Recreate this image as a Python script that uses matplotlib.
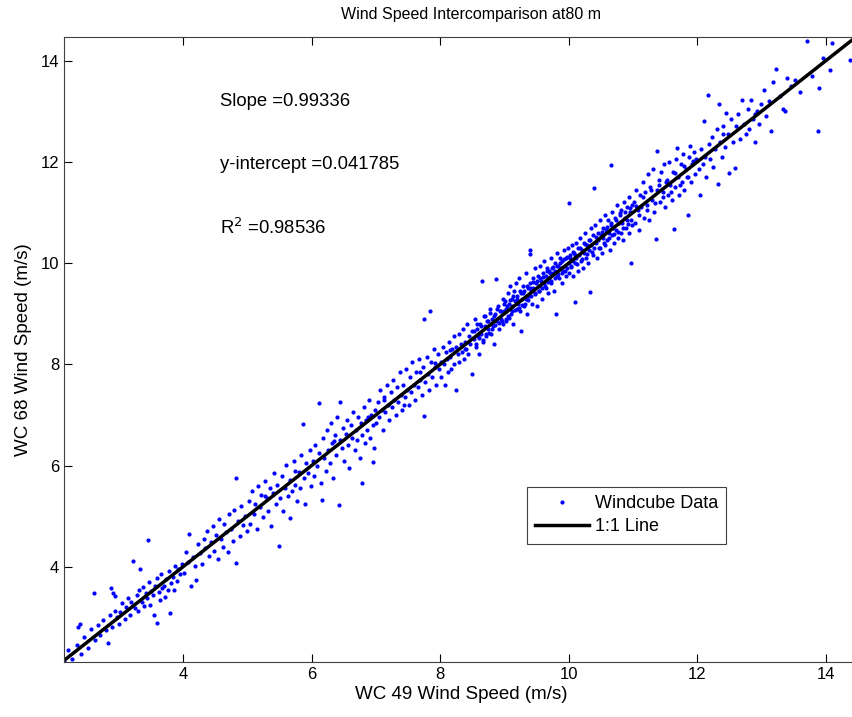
import matplotlib
matplotlib.use('Agg')
import numpy as np
import matplotlib.pyplot as plt

plt.rcParams['font.family'] = ['Liberation Sans', 'DejaVu Sans']

# WC 49 (x) y WC 68 (y), leidos por tramos de velocidad
wc49_low = [2.15, 2.22, 2.28, 2.35, 2.37, 2.40, 2.41, 2.46, 2.52, 2.57, 2.62, 2.63, 2.68, 2.71,
            2.76, 2.80, 2.83, 2.86, 2.88, 2.90, 2.92, 2.94, 2.95, 2.97, 3.00,
            3.02, 3.06, 3.10, 3.12, 3.15, 3.18, 3.20, 3.23, 3.25, 3.28, 3.30, 3.32, 3.34, 3.36,
            3.38, 3.40, 3.42, 3.44, 3.45, 3.47, 3.49, 3.51, 3.53, 3.55, 3.57, 3.59, 3.60, 3.62,
            3.64, 3.66, 3.68, 3.70, 3.72, 3.74, 3.76, 3.78, 3.80, 3.82, 3.84, 3.86, 3.88, 3.90,
            3.93, 3.96, 3.98]
wc68_low = [2.13, 2.35, 2.18, 2.45, 2.81, 2.87, 2.28, 2.62, 2.40, 2.78, 3.49, 2.55, 2.86, 2.66,
            2.95, 2.75, 2.50, 3.05, 3.58, 2.82, 3.48, 3.12, 3.42, 3.00, 2.88,
            3.10, 3.28, 2.96, 3.20, 3.38, 3.05, 3.30, 4.11, 3.18, 3.45, 3.12, 3.55, 3.96, 3.30,
            3.60, 3.22, 3.48, 3.38, 4.53, 3.70, 3.25, 3.52, 3.44, 3.05, 3.62, 2.89, 3.78, 3.50,
            3.35, 3.85, 3.58, 3.62, 3.40, 3.75, 3.55, 3.92, 3.09, 3.68, 3.80, 3.55, 4.02, 3.72,
            3.95, 3.85, 4.05]

wc49_4_6 = [4.02, 4.05, 4.08, 4.10, 4.12, 4.15, 4.18, 4.21, 4.23, 4.26, 4.29, 4.32, 4.35, 4.37,
            4.40, 4.43, 4.46, 4.48, 4.51, 4.54, 4.56, 4.59, 4.62, 4.64, 4.67, 4.70, 4.72, 4.75,
            4.78, 4.80, 4.83, 4.83, 4.86, 4.88, 4.91, 4.94, 4.97, 4.99,
            5.02, 5.04, 5.07, 5.10, 5.12, 5.15, 5.17, 5.20, 5.22, 5.25, 5.27, 5.30, 5.32, 5.35,
            5.37, 5.40, 5.42, 5.45, 5.47, 5.49, 5.51, 5.54, 5.56, 5.59, 5.61, 5.63, 5.66, 5.67,
            5.70, 5.72, 5.75, 5.77, 5.80, 5.82, 5.84, 5.86, 5.88, 5.90, 5.92, 5.95, 5.97, 5.99]
wc68_4_6 = [3.88, 4.30, 4.10, 4.65, 3.62, 4.20, 4.02, 3.74, 4.45, 4.28, 4.06, 4.55, 4.38, 4.70,
            4.22, 4.50, 4.80, 4.32, 4.62, 4.15, 4.95, 4.55, 4.40, 4.85, 4.68, 4.30, 5.05, 4.75,
            4.52, 5.12, 5.75, 4.07, 4.90, 4.60, 5.20, 4.82, 5.00, 4.70,
            5.30, 4.85, 5.50, 5.05, 5.25, 4.75, 5.60, 5.18, 5.42, 4.98, 5.70, 5.35, 5.10, 5.55,
            4.80, 5.45, 5.85, 5.25, 5.62, 4.41, 5.35, 5.80, 5.10, 5.55, 6.02, 5.40, 5.72, 4.96,
            5.50, 6.10, 5.62, 5.30, 5.88, 5.55, 6.20, 6.82, 5.75, 5.25, 6.05, 5.85, 6.30, 5.60]

wc49_6_8 = [6.02, 6.04, 6.06, 6.08, 6.11, 6.12, 6.14, 6.16, 6.18, 6.20, 6.22, 6.24, 6.26, 6.28,
            6.30, 6.32, 6.34, 6.36, 6.38, 6.40, 6.42, 6.44, 6.45, 6.47, 6.49, 6.51, 6.53, 6.55,
            6.57, 6.59, 6.61, 6.63, 6.65, 6.67, 6.69, 6.71, 6.73, 6.75, 6.77, 6.78, 6.79, 6.81,
            6.83, 6.85, 6.87, 6.89, 6.91, 6.93, 6.95, 6.95, 6.97, 6.99,
            7.01, 7.03, 7.05, 7.07, 7.09, 7.11, 7.13, 7.15, 7.17, 7.19, 7.21, 7.23, 7.25, 7.27,
            7.29, 7.31, 7.33, 7.35, 7.37, 7.39, 7.41, 7.43, 7.45, 7.47, 7.49, 7.51, 7.53, 7.55,
            7.57, 7.59, 7.61, 7.63, 7.65, 7.67, 7.69, 7.71, 7.73, 7.75, 7.75, 7.77, 7.79, 7.81,
            7.83, 7.84, 7.86, 7.88, 7.90, 7.92, 7.94, 7.96, 7.98]
wc68_6_8 = [6.10, 5.80, 6.40, 6.00, 7.24, 6.25, 5.65, 5.32, 6.55, 6.15, 5.90, 6.70, 6.30, 6.05,
            6.85, 6.45, 5.75, 6.60, 6.20, 6.95, 5.22, 6.50, 7.26, 6.35, 6.75, 6.10, 6.62, 6.90,
            6.40, 5.95, 6.80, 6.55, 7.05, 6.30, 6.70, 6.50, 6.95, 6.15, 6.85, 5.66, 6.60, 7.15,
            6.45, 6.90, 6.70, 7.30, 6.55, 7.00, 6.80, 6.08, 6.35, 7.10,
            6.85, 7.25, 6.95, 7.50, 7.10, 6.70, 7.35, 7.05, 7.60, 7.20, 6.90, 7.45, 7.15, 7.70,
            7.30, 7.00, 7.55, 7.25, 7.85, 7.40, 7.10, 7.60, 7.35, 7.90, 7.50, 7.20, 7.75, 7.45,
            8.05, 7.60, 7.30, 7.85, 7.55, 8.10, 7.70, 7.40, 7.95, 8.90, 6.98, 7.65, 8.15, 7.80,
            7.50, 9.05, 8.05, 7.75, 8.30, 7.95, 7.60, 8.20, 7.90]

wc49_8_10 = [8.01, 8.02, 8.04, 8.06, 8.07, 8.09, 8.11, 8.12, 8.14, 8.16, 8.17, 8.19, 8.21, 8.22,
             8.24, 8.25, 8.27, 8.29, 8.30, 8.32, 8.34, 8.35, 8.37, 8.39, 8.40, 8.42, 8.44, 8.45,
             8.47, 8.49, 8.50, 8.52, 8.54, 8.55, 8.57, 8.59, 8.60, 8.62, 8.64, 8.65, 8.67, 8.69,
             8.70, 8.72, 8.74, 8.75, 8.77, 8.79, 8.80, 8.82, 8.84, 8.85, 8.87, 8.88, 8.90, 8.92,
             8.93, 8.95, 8.97, 8.98, 9.00,
             9.01, 9.02, 9.03, 9.05, 9.06, 9.07, 9.08, 9.10, 9.11, 9.12, 9.14, 9.15, 9.16, 9.18,
             9.19, 9.20, 9.21, 9.23, 9.24, 9.25, 9.26, 9.27, 9.29, 9.30, 9.31, 9.33, 9.34, 9.35,
             9.36, 9.38, 9.39, 9.39, 9.40, 9.41, 9.43, 9.44, 9.45, 9.47, 9.48, 9.49, 9.50, 9.52,
             9.53, 9.54, 9.56, 9.57, 9.58, 9.60, 9.61, 9.62, 9.64, 9.65, 9.66, 9.68, 9.69, 9.70,
             9.72, 9.73, 9.74, 9.75, 9.77, 9.78, 9.79, 9.80, 9.81, 9.82, 9.84, 9.85, 9.86, 9.88,
             9.89, 9.90, 9.91, 9.93, 9.94, 9.95, 9.96, 9.98, 9.99, 10.00, 10.00]
wc68_8_10 = [8.05, 7.75, 8.35, 8.00, 7.60, 8.25, 8.10, 7.85, 8.45, 8.15, 7.90, 8.30, 8.55, 8.00,
             7.49, 8.35, 8.20, 8.60, 8.05, 8.40, 8.25, 8.70, 8.10, 8.45, 8.30, 8.80, 8.20, 8.55,
             8.40, 7.81, 8.65, 8.50, 8.90, 8.35, 8.70, 8.55, 8.20, 8.80, 8.60, 9.65, 8.45, 8.75,
             8.95, 8.55, 8.85, 8.70, 9.10, 8.60, 8.90, 8.75, 8.40, 9.00, 9.69, 8.85, 9.15, 8.70,
             9.05, 8.90, 9.30, 8.80, 9.05,
             9.25, 8.85, 9.10, 9.40, 8.95, 9.20, 9.55, 9.00, 9.30, 9.15, 8.80, 9.45, 9.25, 9.60,
             9.10, 9.35, 9.20, 9.70, 9.05, 8.65, 9.40, 9.30, 9.55, 9.15, 9.45, 9.80, 9.30, 9.00,
             9.50, 9.35, 10.26, 10.18, 9.60, 9.45, 9.20, 9.70, 9.50, 9.90, 9.40, 9.60, 9.15, 9.75,
             9.55, 9.45, 9.95, 9.65, 9.30, 9.80, 9.60, 10.05, 9.50, 9.75, 9.90, 9.40, 9.85, 9.70,
             10.10, 9.60, 9.90, 9.80, 9.45, 10.00, 9.85, 8.99, 10.20, 9.75, 9.95, 9.70, 10.10, 9.90,
             9.60, 10.05, 9.85, 10.25, 9.95, 9.75, 10.10, 9.90, 10.30, 11.18, 10.00]

wc49_10_12 = [10.01, 10.02, 10.03, 10.05, 10.06, 10.07, 10.08, 10.10, 10.10, 10.11, 10.12, 10.14,
              10.15, 10.16, 10.18, 10.19, 10.20, 10.22, 10.23, 10.24, 10.26, 10.27, 10.28, 10.30,
              10.31, 10.32, 10.33, 10.34, 10.35, 10.37, 10.38, 10.39, 10.40, 10.41, 10.42, 10.44,
              10.45, 10.46, 10.48, 10.49, 10.50, 10.52, 10.53, 10.54, 10.56, 10.57, 10.58, 10.60,
              10.61, 10.62, 10.64, 10.65, 10.65, 10.67, 10.68, 10.69, 10.71, 10.72, 10.74, 10.75,
              10.76, 10.78, 10.79, 10.81, 10.82, 10.83, 10.85, 10.86, 10.87, 10.89, 10.90, 10.91,
              10.93, 10.94, 10.95, 10.97, 10.97, 10.98, 10.99,
              11.01, 11.03, 11.05, 11.07, 11.09, 11.11, 11.13, 11.15, 11.17, 11.19, 11.21, 11.23,
              11.25, 11.27, 11.29, 11.31, 11.33, 11.35, 11.37, 11.38, 11.40, 11.42, 11.44, 11.46,
              11.48, 11.50, 11.52, 11.54, 11.56, 11.58, 11.60, 11.62, 11.63, 11.65, 11.67, 11.68,
              11.70, 11.72, 11.74, 11.76, 11.78, 11.80, 11.82, 11.84, 11.85, 11.87, 11.88, 11.90,
              11.92, 11.94, 11.96, 11.98]
wc68_10_12 = [9.80, 10.15, 9.95, 10.35, 10.05, 9.75, 10.20, 9.24, 10.00, 10.40, 10.10, 9.85,
              10.30, 10.15, 10.50, 10.05, 10.25, 9.90, 10.40, 10.20, 10.60, 10.10, 10.35, 10.00,
              10.45, 10.25, 9.42, 10.70, 10.35, 10.15, 10.55, 10.30, 11.49, 10.75, 10.40, 10.10,
              10.60, 10.45, 10.85, 10.30, 10.55, 10.20, 10.70, 10.50, 10.95, 10.35, 10.65, 10.45,
              10.85, 10.60, 10.25, 11.93, 10.75, 10.55, 11.00, 10.70, 10.40, 10.90, 10.65, 11.15,
              10.50, 10.80, 10.95, 10.60, 11.05, 10.80, 10.45, 11.20, 10.90, 10.70, 11.10, 10.85,
              11.30, 10.60, 11.00, 10.00, 10.85, 11.15, 10.75,
              11.20, 10.80, 11.45, 11.05, 10.65, 11.35, 11.10, 11.60, 10.90, 11.40, 11.15, 11.75,
              10.85, 11.50, 11.25, 11.85, 11.00, 10.48, 12.22, 11.45, 11.65, 11.20, 11.80, 11.40,
              11.95, 11.10, 11.60, 11.35, 12.00, 11.55, 11.25, 11.80, 10.68, 11.50, 12.05, 12.28,
              11.70, 11.35, 11.95, 11.60, 12.15, 11.45, 11.85, 11.70, 10.95, 12.10, 12.32, 11.60,
              11.95, 12.20, 11.75, 12.05]

wc49_high = [12.02, 12.04, 12.06, 12.08, 12.10, 12.12, 12.14, 12.16, 12.18, 12.20, 12.23, 12.25,
             12.28, 12.30, 12.32, 12.33, 12.35, 12.38, 12.40, 12.43, 12.45, 12.47, 12.49, 12.52,
             12.55, 12.58, 12.60, 12.63, 12.66, 12.69, 12.72, 12.75, 12.78, 12.81, 12.84, 12.87,
             12.89, 12.92, 12.96, 12.99,
             13.03, 13.07, 13.12, 13.15, 13.17, 13.23, 13.28, 13.33, 13.37, 13.39, 13.45, 13.52,
             13.60, 13.70, 13.78, 13.87, 13.89, 13.95, 14.06, 14.10, 14.38]
wc68_high = [11.85, 11.35, 12.25, 11.95, 12.81, 12.10, 11.70, 13.32, 12.35, 12.05, 12.50, 11.90,
             12.25, 12.65, 11.57, 13.15, 12.40, 12.10, 12.70, 12.30, 12.97, 12.55, 11.77, 12.85,
             12.40, 11.87, 12.70, 12.95, 12.45, 13.22, 12.75, 12.55, 13.05, 12.65, 13.23, 12.85,
             12.40, 13.00, 12.75, 13.15,
             13.42, 12.90, 13.20, 12.61, 13.58, 13.84, 13.30, 13.05, 13.01, 13.66, 13.50, 13.62,
             13.38, 14.39, 13.70, 12.61, 13.46, 14.05, 13.82, 14.35, 14.02]

# puntos extra en la zona mas densa (8.5-12 m/s)
wc49_dense = [8.53, 8.56, 8.58, 8.61, 8.63, 8.66, 8.68, 8.71, 8.73, 8.76,
              8.78, 8.81, 8.83, 8.86, 8.89, 8.91, 8.94, 8.96, 8.99, 9.02,
              9.04, 9.07, 9.09, 9.12, 9.14, 9.17, 9.19, 9.22, 9.24, 9.27,
              9.29, 9.32, 9.35, 9.37, 9.40, 9.42, 9.45, 9.47, 9.50, 9.53,
              9.55, 9.58, 9.60, 9.63, 9.66, 9.68, 9.71, 9.73, 9.76, 9.79,
              9.81, 9.84, 9.86, 9.89, 9.92, 9.94, 9.97, 10.02, 10.04, 10.06,
              10.09, 10.13, 10.17, 10.21, 10.25, 10.29, 10.33, 10.36, 10.43, 10.47,
              10.51, 10.55, 10.59, 10.63, 10.66, 10.70, 10.73, 10.77, 10.80, 10.84,
              10.88, 10.92, 10.96, 11.04, 11.10, 11.16, 11.22, 11.28, 11.34, 11.41,
              11.47, 11.53, 11.59, 11.66, 11.73, 11.79, 11.86, 11.93, 7.12, 7.44,
              7.68, 7.92, 8.15, 8.38, 6.35, 6.88, 5.28, 5.75, 12.40, 12.90]
wc68_dense = [8.65, 8.40, 8.80, 8.52, 8.75, 8.48, 8.95, 8.60, 8.85, 8.62,
              9.02, 8.70, 8.95, 8.78, 9.10, 8.82, 9.05, 8.85, 9.20, 8.90,
              9.15, 8.92, 9.28, 9.05, 9.35, 9.08, 9.30, 9.12, 9.45, 9.18,
              9.40, 9.20, 9.55, 9.28, 9.50, 9.35, 9.62, 9.38, 9.65, 9.45,
              9.70, 9.50, 9.72, 9.55, 9.85, 9.62, 9.80, 9.65, 9.92, 9.70,
              9.95, 9.78, 10.00, 9.80, 10.08, 9.85, 10.12, 10.10, 9.92, 10.22,
              10.15, 9.98, 10.30, 10.08, 10.38, 10.18, 10.45, 10.22, 10.52, 10.30,
              10.62, 10.40, 10.72, 10.50, 10.80, 10.58, 10.85, 10.62, 10.98, 10.70,
              11.00, 10.78, 11.08, 11.12, 10.95, 11.30, 11.05, 11.45, 11.18, 11.55,
              11.30, 11.65, 11.40, 11.78, 11.55, 11.92, 11.70, 12.02, 7.30, 7.20,
              7.85, 8.02, 8.28, 8.30, 6.48, 6.95, 5.40, 5.90, 12.55, 12.95]

one_to_one = [2.12, 14.47]

wc49 = np.concatenate([wc49_low, wc49_4_6, wc49_6_8, wc49_8_10, wc49_10_12, wc49_high, wc49_dense])
wc68 = np.concatenate([wc68_low, wc68_4_6, wc68_6_8, wc68_8_10, wc68_10_12, wc68_high, wc68_dense])

fig = plt.figure(figsize=(8.53, 7.17), dpi=100)
ax = fig.add_axes([0.075, 0.0767, 0.931, 0.872])

ax.plot(wc49, wc68, '.', color='#0000ff', markersize=4, label='Windcube Data')
ax.plot(one_to_one, one_to_one, '-', color='black', linewidth=2.5, label='1:1 Line')

ax.set_xlim(2.15, 14.5)
ax.set_ylim(2.12, 14.47)
ax.set_xticks([4, 6, 8, 10, 12, 14])
ax.set_yticks([4, 6, 8, 10, 12, 14])
ax.tick_params(direction='in', top=True, right=False, length=6, width=0.8, labelsize=12)
for s in ax.spines.values():
    s.set_color('#404040')

ax.set_title('Wind Speed Intercomparison at80 m', fontsize=11.5, pad=13, x=0.513)
ax.set_xlabel('WC 49 Wind Speed (m/s)', fontsize=13.5, labelpad=3)
ax.set_ylabel('WC 68 Wind Speed (m/s)', fontsize=13.5, labelpad=6)

ax.text(4.57, 13.2, 'Slope =0.99336', fontsize=13.3, va='center')
ax.text(4.57, 11.94, 'y-intercept =0.041785', fontsize=13.3, va='center')
ax.text(4.57, 10.7, 'R$^2$ =0.98536', fontsize=13.3, va='center')

leg = ax.legend(loc='upper left', bbox_to_anchor=(0.583, 0.28), borderaxespad=0,
                fontsize=13, fancybox=False, edgecolor='#404040', framealpha=1,
                borderpad=0.45, labelspacing=0.35, handlelength=3.0, handletextpad=0.3,
                markerscale=1.0)
leg.get_frame().set_linewidth(0.8)

plt.savefig('out.png', dpi=100)
plt.close()
